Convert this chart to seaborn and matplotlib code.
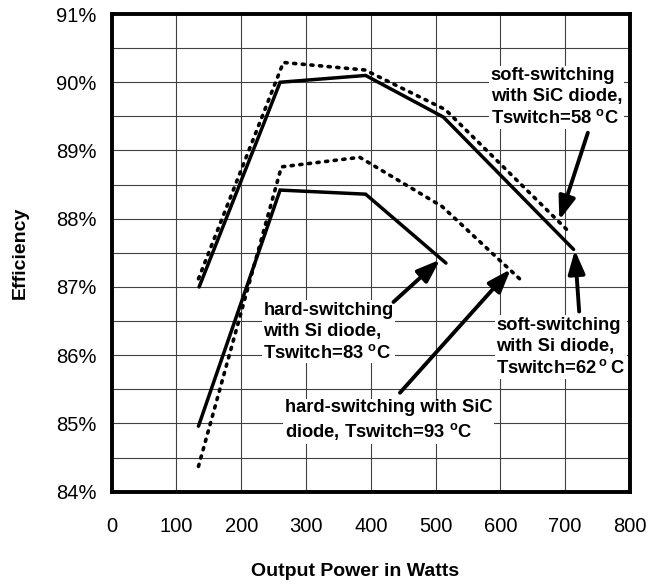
import matplotlib
matplotlib.use("Agg")
import matplotlib.pyplot as plt
from matplotlib.ticker import MultipleLocator, FuncFormatter
import seaborn as sns
import pandas as pd

# values (efficiency in %)
soft_si_w = [135, 260, 392, 512, 713]
soft_si_eff = [87.0, 90.0, 90.1, 89.49, 87.55]

soft_sic_w = [134, 265, 391, 515, 709]
soft_sic_eff = [87.12, 90.29, 90.18, 89.6, 87.78]

hard_si_w = [134, 260, 392, 516]
hard_si_eff = [84.96, 88.42, 88.36, 87.35]

hard_sic_w = [134, 262, 383, 510, 633]
hard_sic_eff = [84.37, 88.76, 88.9, 88.18, 87.09]

labels = [
    "soft-switching\nwith SiC diode,\nTswitch=58 $^{\\mathbf{o}}$C",
    "hard-switching\nwith Si diode,\nTswitch=83 $^{\\mathbf{o}}$C",
    "soft-switching\nwith Si diode,\nTswitch=62$\\,^{\\mathbf{o}}\\,$C",
    "hard-switching with SiC\ndiode, Tswitch=93 $^{\\mathbf{o}}$C",
]
label_pos = [(585, 89.78), (234, 86.345), (594, 86.12), (267, 85.04)]
arrow_tail = [(735, 89.26), (435, 86.78), (721.6, 86.64), (445, 85.45)]
arrow_head = [(691, 87.98), (507, 87.40), (715, 87.54), (616, 87.26)]

sns.set_style("white")
plt.rcParams["font.family"] = ["Liberation Sans", "DejaVu Sans"]
plt.rcParams["mathtext.fontset"] = "custom"
plt.rcParams["mathtext.rm"] = "Liberation Sans"
plt.rcParams["mathtext.bf"] = "Liberation Sans:bold"
for key in ["text.color", "axes.labelcolor", "xtick.color", "ytick.color"]:
    plt.rcParams[key] = "black"

fig = plt.figure(figsize=(6.53, 5.87), dpi=100)
ax = fig.add_axes([0.171, 0.1624, 0.7937, 0.8137])

dotted = (0, (0.6, 1.8))
series = [
    (soft_si_w, soft_si_eff, "-"),
    (soft_sic_w, soft_sic_eff, dotted),
    (hard_si_w, hard_si_eff, "-"),
    (hard_sic_w, hard_sic_eff, dotted),
]
for w, eff, ls in series:
    df = pd.DataFrame({"power": w, "eff": eff})
    if ls == "-":
        sns.lineplot(data=df, x="power", y="eff", ax=ax, color="black",
                     lw=2.5, linestyle="-", errorbar=None, sort=False,
                     solid_joinstyle="miter")
    else:
        sns.lineplot(data=df, x="power", y="eff", ax=ax, color="black",
                     lw=2.6, linestyle=ls, errorbar=None, sort=False,
                     dash_capstyle="round")

ax.set_xlim(0, 800)
ax.set_ylim(84, 91)
ax.xaxis.set_major_locator(MultipleLocator(100))
ax.yaxis.set_major_locator(MultipleLocator(1))
ax.yaxis.set_minor_locator(MultipleLocator(0.5))
ax.yaxis.set_major_formatter(FuncFormatter(lambda v, p: f"{v:.0f}%"))
ax.grid(True, which="both", color="#404040", lw=0.8)
ax.set_axisbelow(True)

for s in ax.spines.values():
    s.set_color("black")
    s.set_linewidth(2.8)
    s.set_zorder(6)

ax.tick_params(axis="x", which="major", length=4, width=0.8, color="#444444",
               pad=14, labelsize=14.5)
ax.tick_params(axis="y", which="both", length=0, pad=11, labelsize=14.5)

ax.set_xlabel("Output Power in Watts", fontsize=14, fontweight="bold")
ax.set_ylabel("Efficiency", fontsize=14, fontweight="bold")
ax.xaxis.set_label_coords(0.47, -0.168)
ax.xaxis.label.set_va("center")
ax.yaxis.set_label_coords(-0.177, 0.5)
ax.yaxis.label.set_va("center")

for txt, pos in zip(labels, label_pos):
    ax.text(pos[0], pos[1], txt, ha="left", va="center", fontsize=13.2,
            fontweight="bold", linespacing=1.3, zorder=4,
            bbox=dict(facecolor="white", edgecolor="none", pad=1))

for tail, head in zip(arrow_tail, arrow_head):
    ax.annotate("", xy=head, xytext=tail, zorder=5,
                arrowprops=dict(arrowstyle="-|>,head_length=0.5,head_width=0.18",
                                mutation_scale=28, lw=2.8, color="black",
                                shrinkA=0, shrinkB=0))

fig.savefig("out.png", dpi=100)
